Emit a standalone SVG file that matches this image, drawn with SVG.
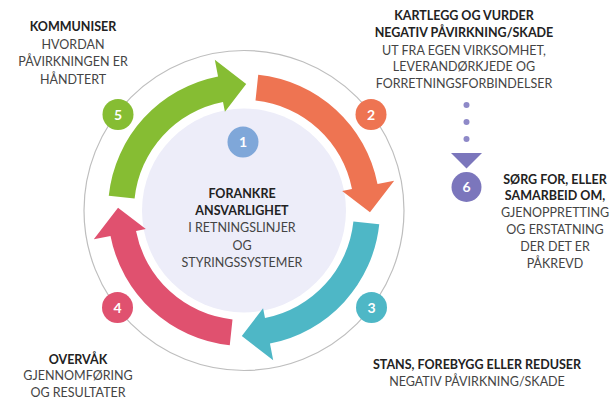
<svg xmlns="http://www.w3.org/2000/svg" xmlns:xlink="http://www.w3.org/1999/xlink" width="615" height="399" viewBox="0 0 615 399">
  <style>
    text { font-family: Lato, "Open Sans", "Liberation Sans", sans-serif; font-size: 12.5px; text-anchor: middle; }
    .b { font-weight: bold; fill: #222; }
    .r { fill: #444; }
    .num { font-size: 14px; font-weight: bold; fill: #fff; }
    .ring { fill: none; stroke: #BEBEBE; stroke-width: 1.2; }
  </style>
  <defs>
    <path id="arc" d="M379.25 224.22 A136 136 0 0 1 269.95 343.50 L273.19 360.19 L241.80 335.98 L263.08 308.16 L264.99 317.98 A110 110 0 0 0 353.40 221.50 Z"/>
  </defs>
  <rect width="615" height="399" fill="#fff"/>
  <circle class="ring" cx="244" cy="210.5" r="160"/>
  <circle cx="244" cy="210.5" r="102" fill="#EDEDF9"/>

  <g id="connectors">
    <use xlink:href="#arc" fill="#4EB7C6"/>
    <use xlink:href="#arc" fill="#E0516F" transform="rotate(90 244 210)"/>
    <use xlink:href="#arc" fill="#86BD33" transform="rotate(180 244 210)"/>
    <use xlink:href="#arc" fill="#EE7452" transform="rotate(270 244 210)"/>
    <g fill="#8E89C8">
      <circle cx="466.5" cy="105" r="3"/>
      <circle cx="466.5" cy="122" r="3"/>
      <circle cx="466.5" cy="139" r="3"/>
    </g>
    <polygon points="451,153 482,153 466.5,168.5" fill="#7B76BC"/>
  </g>

  <g id="step1">
    <circle cx="243" cy="142" r="15.5" fill="#7FA7D9"/>
    <text class="num" x="243" y="147">1</text>
    <text class="b" x="242" y="198">FORANKRE</text>
    <text class="b" x="242" y="215">ANSVARLIGHET</text>
    <text class="r" x="242" y="232">I RETNINGSLINJER</text>
    <text class="r" x="242" y="249.5">OG</text>
    <text class="r" x="242" y="267">STYRINGSSYSTEMER</text>
  </g>

  <g id="step2">
    <circle cx="371" cy="114.5" r="15.5" fill="#EE7452"/>
    <text class="num" x="371" y="119.5">2</text>
    <text class="b" x="464" y="19.5">KARTLEGG OG VURDER</text>
    <text class="b" x="464" y="37">NEGATIV PÅVIRKNING/SKADE</text>
    <text class="r" x="464" y="54.5">UT FRA EGEN VIRKSOMHET,</text>
    <text class="r" x="464" y="71">LEVERANDØRKJEDE OG</text>
    <text class="r" x="464" y="88">FORRETNINGSFORBINDELSER</text>
  </g>

  <g id="step3">
    <circle cx="371.5" cy="307.5" r="15.5" fill="#4EB7C6"/>
    <text class="num" x="371.5" y="312.5">3</text>
    <text class="b" x="477" y="368.5">STANS, FOREBYGG ELLER REDUSER</text>
    <text class="r" x="477" y="386">NEGATIV PÅVIRKNING/SKADE</text>
  </g>

  <g id="step4">
    <circle cx="117.5" cy="307.5" r="15.5" fill="#E0516F"/>
    <text class="num" x="117.5" y="312.5">4</text>
    <text class="b" x="78" y="364">OVERVÅK</text>
    <text class="r" x="78" y="380">GJENNOMFØRING</text>
    <text class="r" x="78" y="397">OG RESULTATER</text>
  </g>

  <g id="step5">
    <circle cx="118" cy="114.5" r="15.5" fill="#86BD33"/>
    <text class="num" x="118" y="119.5">5</text>
    <text class="b" x="73" y="31">KOMMUNISER</text>
    <text class="r" x="73" y="48.5">HVORDAN</text>
    <text class="r" x="73" y="66">PÅVIRKNINGEN ER</text>
    <text class="r" x="73" y="83.5">HÅNDTERT</text>
  </g>

  <g id="step6">
    <circle cx="466.5" cy="187" r="15" fill="#7B76BC"/>
    <text class="num" x="466.5" y="192">6</text>
    <text class="b" x="555" y="183.5">SØRG FOR, ELLER</text>
    <text class="b" x="555" y="200">SAMARBEID OM,</text>
    <text class="r" x="555" y="216.5">GJENOPPRETTING</text>
    <text class="r" x="555" y="234">OG ERSTATNING</text>
    <text class="r" x="555" y="251">DER DET ER</text>
    <text class="r" x="555" y="267.5">PÅKREVD</text>
  </g>
</svg>
